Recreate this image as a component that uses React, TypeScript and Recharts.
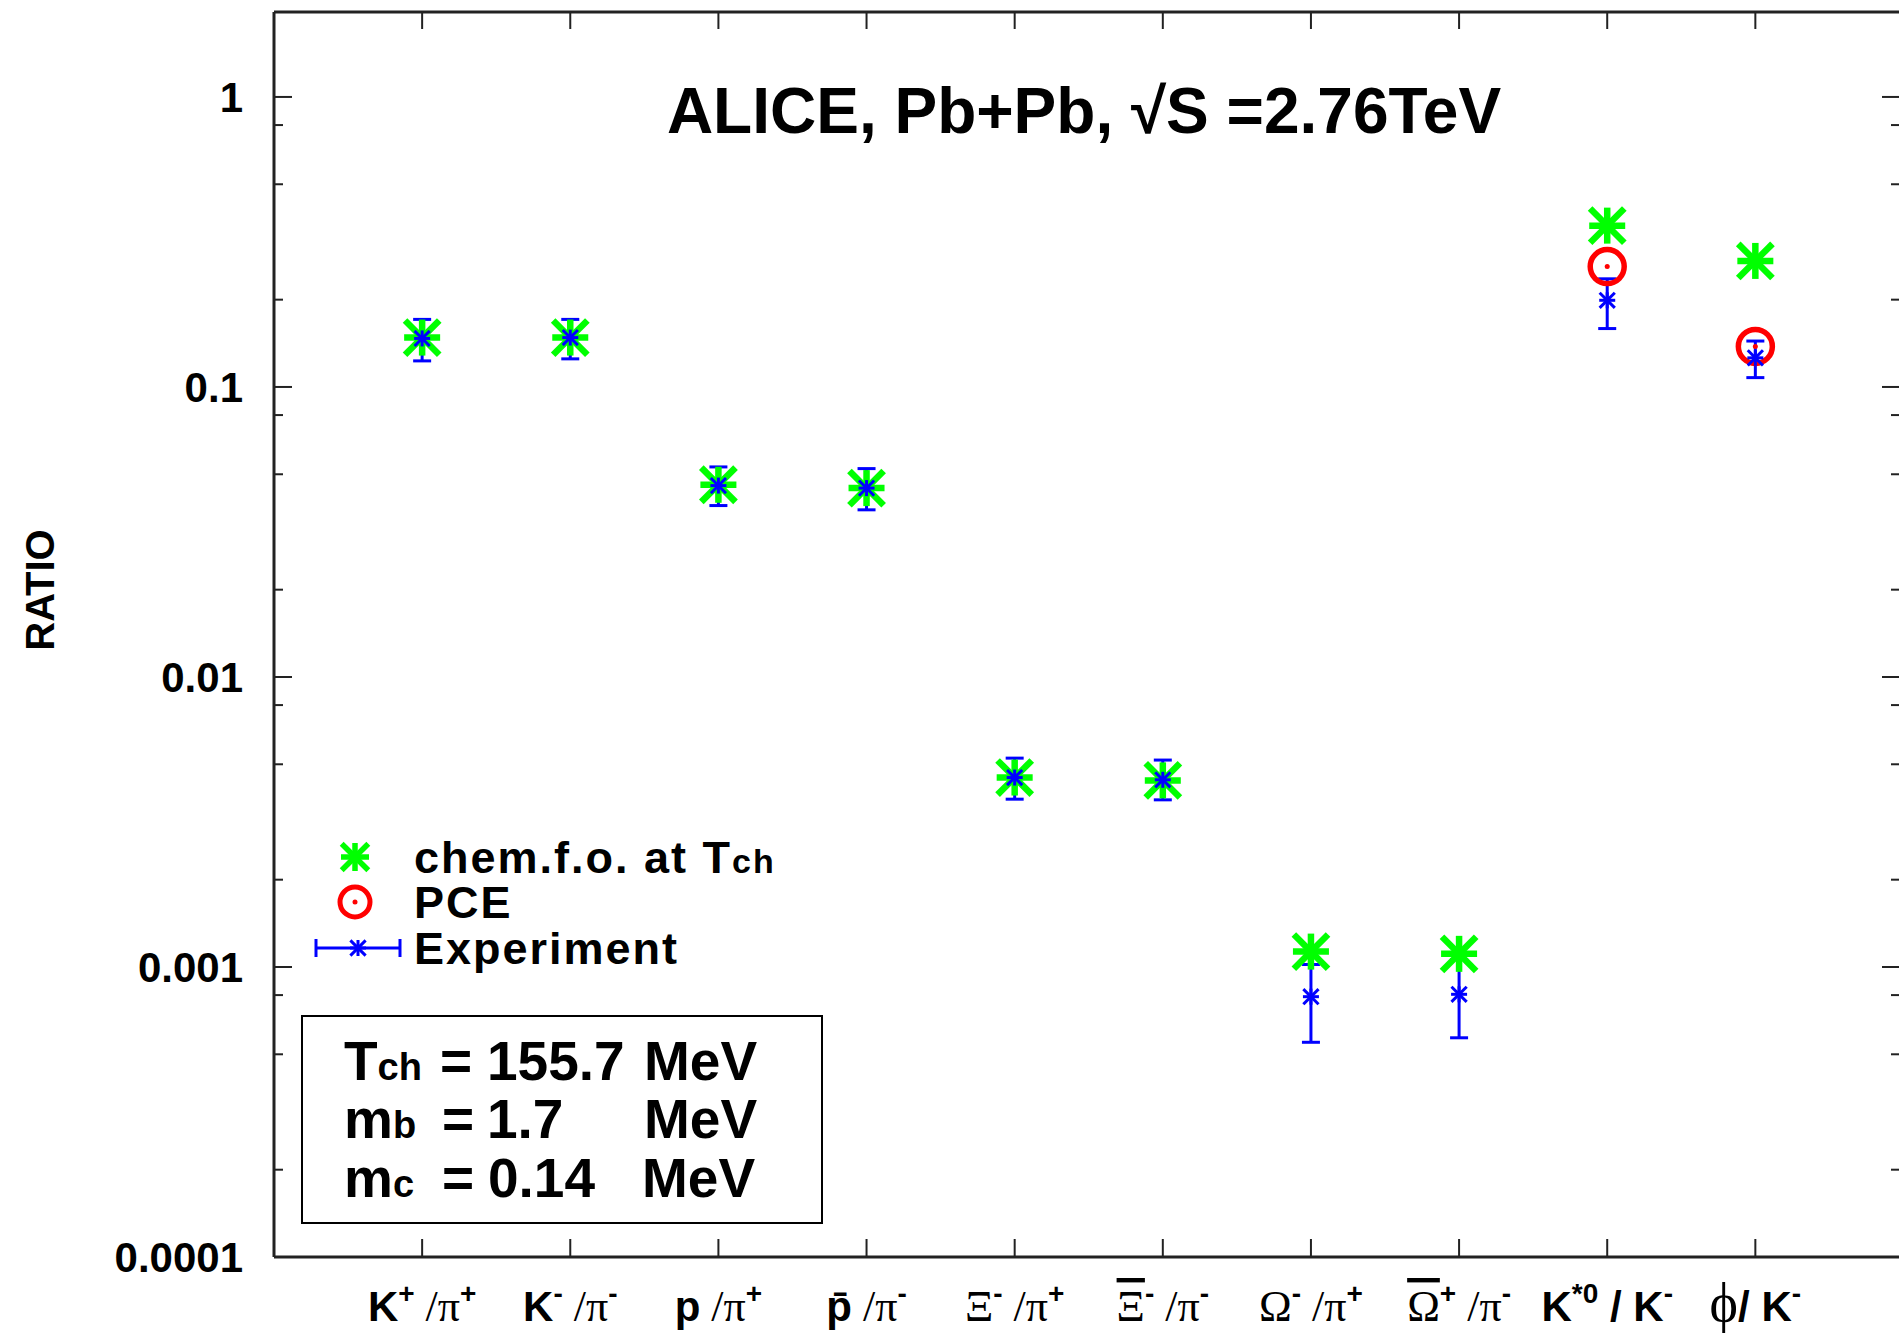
import { ScatterChart, Scatter, XAxis, YAxis, ErrorBar, Legend } from 'recharts';

// ratio categories, positions 1..10 on the x axis
const categories = ['K+/pi+', 'K-/pi-', 'p/pi+', 'pbar/pi-', 'Xi-/pi+', 'Xibar+/pi-', 'Omega-/pi+', 'Omegabar+/pi-', 'K*0/K-', 'phi/K-'];
const chemFO = [0.148, 0.148, 0.046, 0.0448, 0.0045, 0.0044, 0.00113, 0.00111, 0.36, 0.272];
const pce = [null, null, null, null, null, null, null, null, 0.26, 0.138];
const experiment = [0.147, 0.148, 0.0457, 0.0448, 0.0045, 0.00442, 0.00079, 0.000805, 0.199, 0.126];
const expLow = [0.123, 0.125, 0.039, 0.0377, 0.00379, 0.00377, 0.00055, 0.00057, 0.159, 0.1077];
const expHigh = [0.171, 0.171, 0.053, 0.0523, 0.00525, 0.00517, 0.00102, 0.00106, 0.236, 0.144];

const majorTicks = [0.0001, 0.001, 0.01, 0.1, 1];
const majorLabels = ['0.0001', '0.001', '0.01', '0.1', '1'];
const minorTicks = [0.0002, 0.0005, 0.0008, 0.002, 0.005, 0.008, 0.02, 0.05, 0.08, 0.2, 0.5, 0.8];
const xTicks = [1, 2, 3, 4, 5, 6, 7, 8, 9, 10];

// label pieces: sup = superscript, serif = symbol-ish glyph, bar = overbar (antiparticle)
type Part = { t: string; sup?: boolean; serif?: boolean; big?: boolean; bar?: boolean };
const xLabels: Part[][] = [
  [{ t: 'K' }, { t: '+', sup: true }, { t: ' /', serif: true }, { t: 'π', serif: true }, { t: '+', sup: true }],
  [{ t: 'K' }, { t: '-', sup: true }, { t: ' /', serif: true }, { t: 'π', serif: true }, { t: '-', sup: true }],
  [{ t: 'p' }, { t: ' /', serif: true }, { t: 'π', serif: true }, { t: '+', sup: true }],
  [{ t: 'p\u0304' }, { t: ' /', serif: true }, { t: 'π', serif: true }, { t: '-', sup: true }],
  [{ t: 'Ξ', serif: true }, { t: '-', sup: true }, { t: ' /', serif: true }, { t: 'π', serif: true }, { t: '+', sup: true }],
  [{ t: 'Ξ', serif: true, bar: true }, { t: '-', sup: true }, { t: ' /', serif: true }, { t: 'π', serif: true }, { t: '-', sup: true }],
  [{ t: 'Ω', serif: true }, { t: '-', sup: true }, { t: ' /', serif: true }, { t: 'π', serif: true }, { t: '+', sup: true }],
  [{ t: 'Ω', serif: true, bar: true }, { t: '+', sup: true }, { t: ' /', serif: true }, { t: 'π', serif: true }, { t: '-', sup: true }],
  [{ t: 'K' }, { t: '*0', sup: true }, { t: ' / ' }, { t: 'K' }, { t: '-', sup: true }],
  [{ t: 'ϕ', serif: true, big: true }, { t: '/ ' }, { t: 'K' }, { t: '-', sup: true }],
];

const GREEN = '#00ff00';
const RED = '#ff0000';
const BLUE = '#0000ff';
const AXIS = '#222';
const SANS = '"Liberation Sans", Arial, sans-serif';
const SERIF = '"Liberation Serif", "Times New Roman", serif';

const chemData = chemFO.map((v, i) => ({ x: i + 1, y: v, name: categories[i] }));
const pceData = pce
  .map((v, i) => ({ x: i + 1, y: v, name: categories[i] }))
  .filter(d => d.y !== null);
const expData = experiment.map((v, i) => ({
  x: i + 1,
  y: v,
  err: [v - expLow[i], expHigh[i] - v],
  name: categories[i],
}));

const Asterisk = ({ cx, cy, r, color, w }: { cx: number; cy: number; r: number; color: string; w: number }) => {
  const d = r * 0.95;
  return (
    <g stroke={color} strokeWidth={w}>
      <line x1={cx - r} y1={cy} x2={cx + r} y2={cy} />
      <line x1={cx} y1={cy - r} x2={cx} y2={cy + r} />
      <line x1={cx - d} y1={cy - d} x2={cx + d} y2={cy + d} />
      <line x1={cx - d} y1={cy + d} x2={cx + d} y2={cy - d} />
    </g>
  );
};

const Ring = ({ cx, cy }: { cx: number; cy: number }) => (
  <g>
    <circle cx={cx} cy={cy} r={17} fill="none" stroke={RED} strokeWidth={5.5} />
    <circle cx={cx} cy={cy} r={2.5} fill={RED} />
  </g>
);

const YTickLeft = (props: any) => {
  const { x, y, payload } = props;
  const idx = majorTicks.indexOf(payload.value);
  const major = idx >= 0;
  return (
    <g>
      <line x1={x} x2={x + (major ? 18 : 9)} y1={y} y2={y} stroke={AXIS} strokeWidth={2} />
      {major && (
        <text x={x - 31} y={y} dy="0.36em" textAnchor="end" fontFamily={SANS} fontWeight="bold" fontSize={42} fill="#000">
          {majorLabels[idx]}
        </text>
      )}
    </g>
  );
};

const YTickRight = (props: any) => {
  const { x, y, payload } = props;
  const major = majorTicks.indexOf(payload.value) >= 0;
  return <line x1={x} x2={x - (major ? 20 : 11)} y1={y} y2={y} stroke={AXIS} strokeWidth={2} />;
};

const XTickTop = (props: any) => {
  const { x, y } = props;
  return <line x1={x} x2={x} y1={y} y2={y + 17} stroke={AXIS} strokeWidth={2} />;
};

const XTickBottom = (props: any) => {
  const { x, y, payload } = props;
  const parts = xLabels[payload.value - 1] || [];
  let rise = 0;
  return (
    <g>
      <line x1={x} x2={x} y1={y} y2={y - 18} stroke={AXIS} strokeWidth={2} />
      <text x={x} y={y + 64} textAnchor="middle" fill="#000">
        {parts.map((p, i) => {
          const target = p.sup ? -18 : 0;
          const dy = target - rise;
          rise = target;
          return (
            <tspan
              key={i}
              dy={dy}
              fontFamily={p.serif ? SERIF : SANS}
              fontWeight={p.serif ? 'normal' : 'bold'}
              fontSize={p.sup ? 28 : p.big ? 54 : p.serif ? 44 : 42}
              textDecoration={p.bar ? 'overline' : undefined}
            >
              {p.t}
            </tspan>
          );
        })}
      </text>
    </g>
  );
};

const LegendBox = () => (
  <svg width={560} height={150} style={{ overflow: 'visible' }}>
    <Asterisk cx={55} cy={32} r={14} color={GREEN} w={5.5} />
    <circle cx={55} cy={77} r={15} fill="none" stroke={RED} strokeWidth={5} />
    <circle cx={55} cy={77} r={2.5} fill={RED} />
    <g stroke={BLUE} strokeWidth={3}>
      <line x1={16} x2={100} y1={123} y2={123} />
      <line x1={16} x2={16} y1={114} y2={132} />
      <line x1={100} x2={100} y1={114} y2={132} />
    </g>
    <Asterisk cx={58} cy={123} r={8} color={BLUE} w={3} />
    <g fontFamily={SANS} fontWeight="bold" fill="#000" letterSpacing={2}>
      <text x={114} y={48} fontSize={45}>
        chem.f.o. at T<tspan fontSize={34}>ch</tspan>
      </text>
      <text x={114} y={93} fontSize={45}>PCE</text>
      <text x={114} y={139} fontSize={45}>Experiment</text>
    </g>
  </svg>
);

export default function App() {
  return (
    <div style={{ position: 'absolute', left: 0, top: 0, width: 1899, height: 1342, background: '#fff', overflow: 'hidden' }}>
      {/* frame runs a few px past the right edge, as in the cropped original */}
      <ScatterChart width={1903} height={1342} margin={{ top: 11, right: 0, left: 0, bottom: 0 }}>
        <XAxis
          xAxisId={0}
          dataKey="x"
          type="number"
          domain={[0, 10.99]}
          allowDataOverflow
          ticks={xTicks}
          interval={0}
          height={85}
          tickSize={0}
          tickMargin={0}
          tick={XTickBottom}
          axisLine={{ stroke: AXIS, strokeWidth: 3 }}
        />
        <XAxis
          xAxisId="top"
          orientation="top"
          dataKey="x"
          type="number"
          domain={[0, 10.99]}
          allowDataOverflow
          ticks={xTicks}
          interval={0}
          height={1}
          tickSize={0}
          tickMargin={0}
          tick={XTickTop}
          axisLine={{ stroke: AXIS, strokeWidth: 3 }}
        />
        <YAxis
          yAxisId={0}
          dataKey="y"
          type="number"
          scale="log"
          domain={[0.0001, 1.963]}
          allowDataOverflow
          ticks={[...majorTicks, ...minorTicks]}
          interval={0}
          width={274}
          tickSize={0}
          tickMargin={0}
          tick={YTickLeft}
          axisLine={{ stroke: AXIS, strokeWidth: 3 }}
          label={{
            content: () => (
              <text x={40} y={590} transform="rotate(-90 40 590)" textAnchor="middle" dy="0.36em" fontFamily={SANS} fontWeight="bold" fontSize={40} fill="#000">
                RATIO
              </text>
            ),
          }}
        />
        <YAxis
          yAxisId="right"
          orientation="right"
          dataKey="y"
          type="number"
          scale="log"
          domain={[0.0001, 1.963]}
          allowDataOverflow
          ticks={[...majorTicks, ...minorTicks]}
          interval={0}
          width={1}
          tickSize={0}
          tickMargin={0}
          tick={YTickRight}
          axisLine={{ stroke: AXIS, strokeWidth: 3 }}
        />
        <Legend
          layout="horizontal"
          verticalAlign="middle"
          align="center"
          content={LegendBox}
          wrapperStyle={{ left: 300, top: 825, width: 560, height: 150 }}
        />
        {/* invisible copy so the mirrored top/right axes get drawn */}
        <Scatter
          xAxisId="top"
          yAxisId="right"
          data={chemData}
          isAnimationActive={false}
          legendType="none"
          shape={() => <g />}
        />
        <Scatter
          name="chem.f.o. at Tch"
          data={chemData}
          isAnimationActive={false}
          shape={(p: any) => <Asterisk cx={p.cx} cy={p.cy} r={18} color={GREEN} w={6.5} />}
        />
        <Scatter
          name="PCE"
          data={pceData}
          isAnimationActive={false}
          shape={(p: any) => <Ring cx={p.cx} cy={p.cy} />}
        />
        <Scatter
          name="Experiment"
          data={expData}
          isAnimationActive={false}
          shape={(p: any) => <Asterisk cx={p.cx} cy={p.cy} r={8} color={BLUE} w={3} />}
        >
          <ErrorBar dataKey="err" direction="y" width={9} strokeWidth={3} stroke={BLUE} isAnimationActive={false} />
        </Scatter>
      </ScatterChart>
      <svg width={1899} height={1342} style={{ position: 'absolute', left: 0, top: 0, pointerEvents: 'none' }}>
        <text x={1084} y={133} textAnchor="middle" fontFamily={SANS} fontWeight="bold" fontSize={64} fill="#000">
          ALICE, Pb+Pb, √S =2.76TeV
        </text>
        <rect x={302} y={1016} width={520} height={207} fill="none" stroke="#000" strokeWidth={2} />
        <g fontFamily={SANS} fontWeight="bold" fontSize={55} fill="#000">
          <text x={344} y={1080}>T<tspan fontSize={38}>ch</tspan></text>
          <text x={440} y={1080}>=</text>
          <text x={487} y={1080}>155.7</text>
          <text x={644} y={1080}>MeV</text>
          <text x={344} y={1138}>m<tspan fontSize={38}>b</tspan></text>
          <text x={442} y={1138}>=</text>
          <text x={487} y={1138}>1.7</text>
          <text x={644} y={1138}>MeV</text>
          <text x={344} y={1197}>m<tspan fontSize={38}>c</tspan></text>
          <text x={442} y={1197}>=</text>
          <text x={488} y={1197}>0.14</text>
          <text x={642} y={1197}>MeV</text>
        </g>
      </svg>
    </div>
  );
}
